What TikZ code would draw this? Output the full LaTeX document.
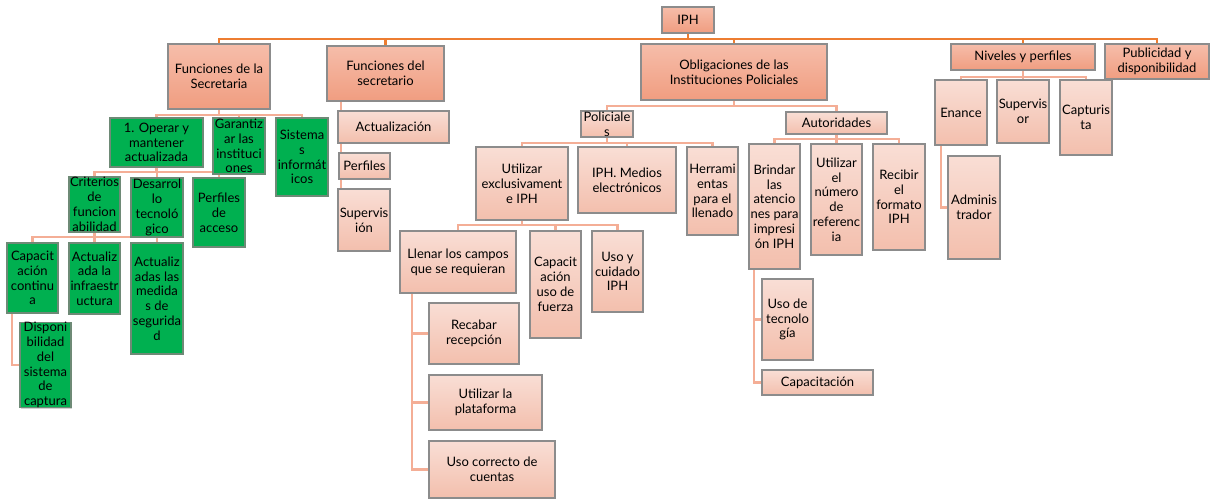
\documentclass[tikz,border=0pt]{standalone}
\usepackage{fontspec}
\setmainfont{Lato}
\usetikzlibrary{backgrounds,shadows}
\definecolor{busA}{HTML}{ED7D31}
\definecolor{busB}{HTML}{F4AE96}
\definecolor{lvAtop}{HTML}{F6BDAA}
\definecolor{lvAbot}{HTML}{F09D80}
\definecolor{lvBtop}{HTML}{F9DED5}
\definecolor{lvBbot}{HTML}{F3BFAD}
\definecolor{grn}{HTML}{00B050}
\definecolor{boxedge}{HTML}{8C8C8C}
\definecolor{grnedge}{HTML}{6E8A76}
\tikzset{
 basebox/.style={rectangle, draw=boxedge, line width=1.1pt, align=center, inner sep=0pt,
   font=\fontsize{13}{14.8}\selectfont,
   drop shadow={shadow xshift=1pt, shadow yshift=-1pt, opacity=0.35}},
 topbox/.style={basebox, top color=lvAtop, bottom color=lvAbot},
 subbox/.style={basebox, top color=lvBtop, bottom color=lvBbot},
 grnbox/.style={basebox, fill=grn, draw=grnedge},
 busmain/.style={draw=busA, line width=2.8pt},
 busline/.style={draw=busB, line width=2.4pt},
}
\newcommand{\bx}[7]{\node[#6, minimum width={(#4)-(#2)}, minimum height={(#5)-(#3)}] (#1) at ({((#2)+(#4))/2},{((#3)+(#5))/2}) {#7};}
\begin{document}
\begin{tikzpicture}[x=1pt,y=-1pt]
\useasboundingbox (0,0) rectangle (1217,502);
% level 0 / 1
\bx{iph}{662}{7}{714}{33}{topbox}{IPH}
\bx{fsec}{168}{44}{270}{109}{topbox}{Funciones de la\\Secretaria}
\bx{fsecr}{327}{46}{444}{101}{topbox}{Funciones del\\secretario}
\bx{obl}{641}{44}{827}{100}{topbox}{Obligaciones de las\\Instituciones Policiales}
\bx{niv}{951}{44}{1095}{70}{topbox}{Niveles y perfiles}
\bx{pub}{1105}{44}{1209}{79}{topbox}{Publicidad y\\disponibilidad}
% Secretaria branch (green)
\bx{oper}{110}{118}{203}{167}{grnbox}{1. Operar y\\mantener\\actualizada}
\bx{gar}{213}{118}{265}{174}{grnbox}{Garantiz\\ar las\\instituci\\ones}
\bx{sis}{276}{118}{328}{196}{grnbox}{Sistema\\s\\informát\\icos}
\bx{crit}{69}{177}{120}{232}{grnbox}{Criterios\\de\\funcion\\abilidad}
\bx{des}{131}{178}{183}{237}{grnbox}{Desarrol\\lo\\tecnoló\\gico}
\bx{perf}{193}{178}{245}{247}{grnbox}{Perfiles\\de\\acceso}
\bx{cap}{7}{243}{58}{313}{grnbox}{Capacit\\ación\\continu\\a}
\bx{infra}{69}{243}{120}{314}{grnbox}{Actualiz\\ada la\\infraestr\\uctura}
\bx{med}{131}{243}{183}{354}{grnbox}{Actualiz\\adas las\\medida\\s de\\segurida\\d}
\bx{disp}{20}{323}{71}{407}{grnbox}{Disponi\\bilidad\\del\\sistema\\de\\captura}
% secretario branch
\bx{act}{338}{111}{449}{143}{subbox}{Actualización}
\bx{perfs}{339}{153}{390}{179}{subbox}{Perfiles}
\bx{supn}{338}{189}{390}{251}{subbox}{Supervis\\ión}
% Obligaciones branch
\bx{pol}{581}{111}{633}{137}{subbox}{Policiale\\s}
\bx{aut}{786}{112}{887}{134}{subbox}{Autoridades}
\bx{util}{476}{147}{568}{220}{subbox}{Utilizar\\exclusivament\\e IPH}
\bx{iphm}{578}{147}{676}{213}{subbox}{IPH. Medios\\electrónicos}
\bx{herr}{687}{147}{738}{235}{subbox}{Herrami\\entas\\para el\\llenado}
\bx{llen}{400}{231}{516}{293}{subbox}{Llenar los campos\\que se requieran}
\bx{capf}{530}{231}{581}{338}{subbox}{Capacit\\ación\\uso de\\fuerza}
\bx{uso}{592}{231}{643}{312}{subbox}{Uso y\\cuidado\\IPH}
\bx{reca}{429}{303}{519}{364}{subbox}{Recabar\\recepción}
\bx{plat}{429}{375}{542}{430}{subbox}{Utilizar la\\plataforma}
\bx{cuen}{429}{441}{555}{498}{subbox}{Uso correcto de\\cuentas}
\bx{brin}{749}{144}{800}{269}{subbox}{Brindar\\las\\atencio\\nes para\\impresi\\ón IPH}
\bx{num}{811}{144}{862}{255}{subbox}{Utilizar\\el\\número\\de\\referenc\\ia}
\bx{rec}{873}{144}{925}{250}{subbox}{Recibir\\el\\formato\\IPH}
\bx{tec}{762}{279}{813}{360}{subbox}{Uso de\\tecnolo\\gía}
\bx{capa}{762}{370}{873}{395}{subbox}{Capacitación}
% Niveles branch
\bx{ena}{935}{80}{987}{145}{subbox}{Enance}
\bx{supv}{997}{80}{1049}{143}{subbox}{Supervis\\or}
\bx{capt}{1060}{80}{1112}{155}{subbox}{Capturis\\ta}
\bx{adm}{948}{156}{1000}{259}{subbox}{Adminis\\trador}
\begin{pgfonlayer}{background}
\foreach \c in {fsec,fsecr,obl,niv,pub}
  \draw[busmain] (iph.south) -- (iph.south |- 0,39) -| (\c.north);
\foreach \c in {oper,gar,sis}
  \draw[busline] (fsec.south) -- (fsec.south |- 0,115) -| (\c.north);
\foreach \c in {crit,des,perf}
  \draw[busline] (oper.south) -- (oper.south |- 0,172) -| (\c.north);
\foreach \c in {cap,infra,med}
  \draw[busline] (crit.south) -- (crit.south |- 0,237) -| (\c.north);
\foreach \c in {pol,aut}
  \draw[busline] (obl.south) -- (obl.south |- 0,106) -| (\c.north);
\foreach \c in {util,iphm,herr}
  \draw[busline] (pol.south) -- (pol.south |- 0,143) -| (\c.north);
\foreach \c in {llen,capf,uso}
  \draw[busline] (util.south) -- (util.south |- 0,225) -| (\c.north);
\foreach \c in {brin,num,rec}
  \draw[busline] (aut.south) -- (aut.south |- 0,139) -| (\c.north);
\foreach \c in {ena,supv,capt}
  \draw[busline] (niv.south) -- (niv.south |- 0,77) -| (\c.north);
\draw[busline] (cap.south -| 12,0) |- (disp.west);
\foreach \c in {act,perfs,supn}
  \draw[busline] (fsecr.south -| 341,0) |- (\c.west);
\foreach \c in {reca,plat,cuen}
  \draw[busline] (llen.south -| 412,0) |- (\c.west);
\foreach \c in {tec,capa}
  \draw[busline] (brin.south -| 754,0) |- (\c.west);
\draw[busline] (ena.south -| 941,0) |- (adm.west);
\end{pgfonlayer}
\end{tikzpicture}
\end{document}
